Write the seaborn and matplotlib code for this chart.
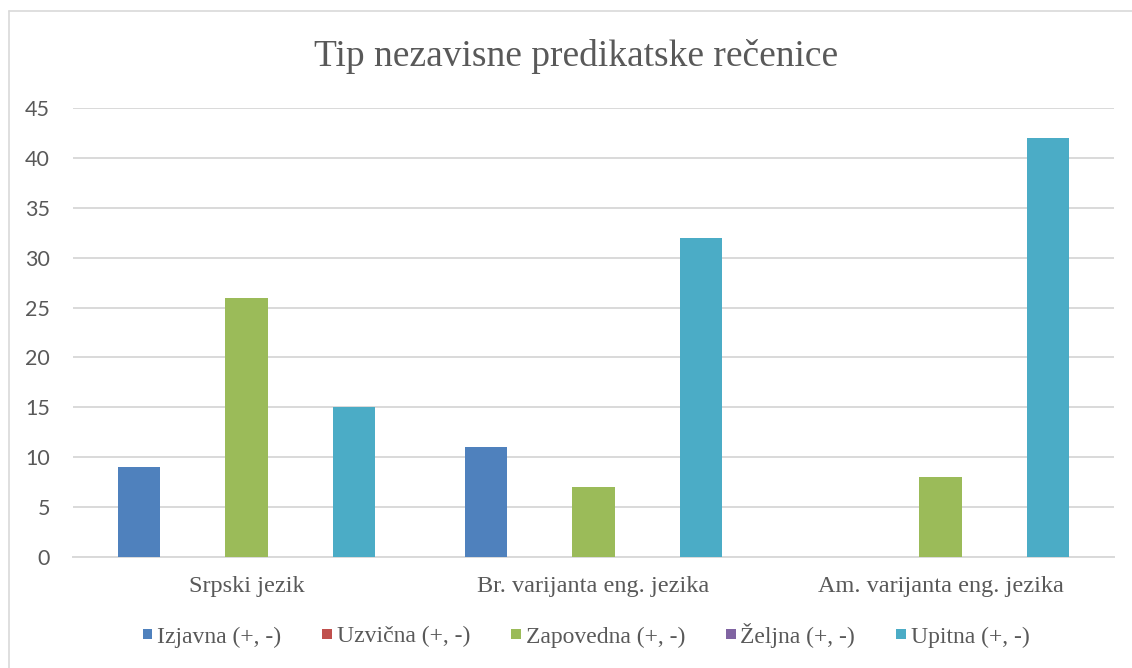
import matplotlib
matplotlib.use("Agg")
import matplotlib.pyplot as plt
import seaborn as sns
import pandas as pd
from matplotlib.lines import Line2D
from matplotlib.patches import Patch

categories = ["Srpski jezik", "Br. varijanta eng. jezika", "Am. varijanta eng. jezika"]
series = ["Izjavna (+, -)", "Uzvična (+, -)", "Zapovedna (+, -)", "Željna (+, -)", "Upitna (+, -)"]
izjavna = [9, 11, 0]
uzvicna = [0, 0, 0]
zapovedna = [26, 7, 8]
zeljna = [0, 0, 0]
upitna = [15, 32, 42]
colors = ["#4F81BD", "#C0504D", "#9BBB59", "#8064A2", "#4BACC6"]
yticks = [0, 5, 10, 15, 20, 25, 30, 35, 40, 45]

values = [izjavna, uzvicna, zapovedna, zeljna, upitna]
rows = []
for s, vals in zip(series, values):
    for c, v in zip(categories, vals):
        rows.append({"category": c, "series": s, "value": v})
df = pd.DataFrame(rows)

sns.set_theme(style="white")
serif = ["Liberation Serif", "DejaVu Serif"]
sans = ["Lato", "DejaVu Sans"]
text_color = "#595959"
grid_color = "#D9D9D9"

fig = plt.figure(figsize=(11.32, 6.68), dpi=100)
ax = fig.add_axes([73 / 1132, 1 - 557 / 668, (1114 - 73) / 1132, (557 - 108) / 668])

sns.barplot(data=df, x="category", y="value", hue="series", order=categories,
            hue_order=series, palette=colors, saturation=1, width=0.771, gap=0.215,
            linewidth=0, legend=False, ax=ax, zorder=3)

ax.set_ylim(0, 45)
ax.set_xlim(-0.5, 2.5)
ax.set_yticks(yticks)
ax.set_yticklabels([str(t) for t in yticks], fontfamily=sans, fontsize=15.5, color=text_color)
ax.set_xticks(range(len(categories)))
ax.set_xticklabels(categories, fontfamily=serif, fontsize=17.5, color=text_color)
ax.tick_params(axis="y", length=0, pad=16.5)
ax.tick_params(axis="x", length=0, pad=14)
ax.set_xlabel("")
ax.set_ylabel("")
ax.grid(axis="y", color=grid_color, linewidth=1.4, zorder=0)
ax.set_axisbelow(True)
for side in ["left", "right", "top"]:
    ax.spines[side].set_visible(False)
ax.spines["bottom"].set_color(grid_color)
ax.spines["bottom"].set_linewidth(1.4)

fig.text(576 / 1132, 1 - 56 / 668, "Tip nezavisne predikatske rečenice",
         ha="center", va="center", fontfamily=serif, fontsize=27, color=text_color)

handles = [Patch(facecolor=c, edgecolor="none") for c in colors]
leg = fig.legend(handles, series, loc="center", bbox_to_anchor=(586 / 1132, 1 - 635 / 668),
                 ncol=5, frameon=False, handlelength=0.42, handleheight=0.275,
                 handletextpad=0.2, columnspacing=1.73,
                 prop={"family": serif, "size": 17})
for t in leg.get_texts():
    t.set_color(text_color)

# chart border (left and top visible)
fig.add_artist(Line2D([9 / 1132, 9 / 1132], [0, 1 - 11 / 668], transform=fig.transFigure,
                      color=grid_color, linewidth=1.2))
fig.add_artist(Line2D([9 / 1132, 1], [1 - 11 / 668, 1 - 11 / 668], transform=fig.transFigure,
                      color=grid_color, linewidth=1.2))

fig.savefig("out.png", dpi=100)
